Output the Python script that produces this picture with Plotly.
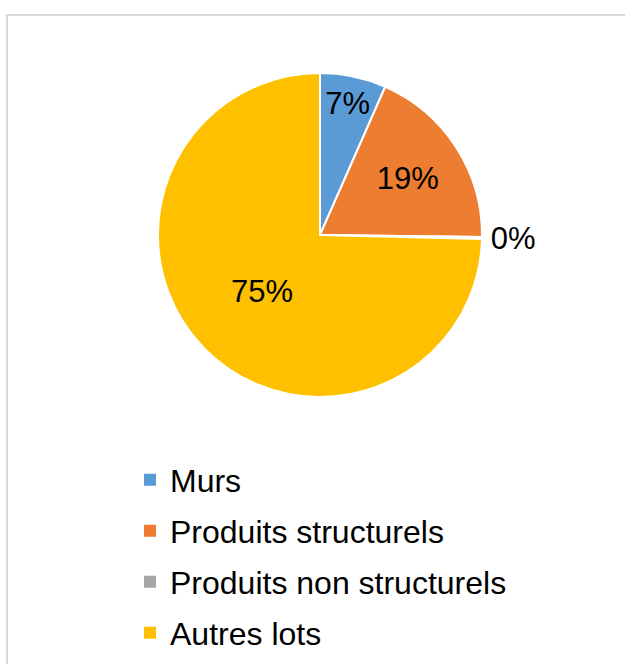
import plotly.graph_objects as go

labels = ["Murs", "Produits structurels", "Produits non structurels", "Autres lots"]
values = [6.6, 18.6, 0.2, 74.6]
colors = ["#5B9BD5", "#ED7D31", "#A5A5A5", "#FFC000"]
text_positions = ["inside", "inside", "outside", "inside"]

W, H = 625, 664
cx, cy, r = 320, 235, 162
FONT = "Liberation Sans, Arial"

fig = go.Figure()
fig.add_trace(go.Pie(
    labels=labels,
    values=values,
    sort=False,
    direction="clockwise",
    rotation=0,
    marker=dict(colors=colors, line=dict(color="white", width=2)),
    texttemplate="%{percent:.0%}",
    textposition=text_positions,
    insidetextorientation="horizontal",
    textfont=dict(family=FONT, size=31, color="black"),
    outsidetextfont=dict(family=FONT, size=31, color="black"),
    domain=dict(x=[(cx - r) / W, (cx + r) / W], y=[1 - (cy + r) / H, 1 - (cy - r) / H]),
    hoverinfo="label+percent",
    showlegend=False,
))

# legend entries (one per category, same colours as the slices)
for lab, col in zip(labels, colors):
    fig.add_trace(go.Scatter(
        x=[None], y=[None], mode="markers",
        marker=dict(symbol="square", size=12, color=col),
        name=lab, legendgroup=lab, showlegend=True, hoverinfo="skip",
    ))

fig.update_layout(
    width=W, height=H,
    margin=dict(l=0, r=0, t=0, b=0),
    paper_bgcolor="white",
    plot_bgcolor="white",
    font=dict(family=FONT, size=31, color="black"),
    uniformtext=dict(minsize=31, mode="show"),
    xaxis=dict(visible=False),
    yaxis=dict(visible=False),
    showlegend=True,
    legend=dict(
        orientation="v",
        x=130 / W, xanchor="left",
        y=1 - 452.5 / H, yanchor="top",
        font=dict(family=FONT, size=32, color="black"),
        bgcolor="rgba(0,0,0,0)",
        traceorder="grouped",
        tracegroupgap=6.4,
    ),
    shapes=[dict(
        type="rect", xref="paper", yref="paper",
        x0=7 / W, x1=1.02, y0=-0.02, y1=1 - 15 / H,
        line=dict(color="#D9D9D9", width=2),
        fillcolor="rgba(0,0,0,0)", layer="below",
    )],
)

fig.write_html("out.html", config={"displayModeBar": False},
               post_script="document.body.style.margin='0px';")
